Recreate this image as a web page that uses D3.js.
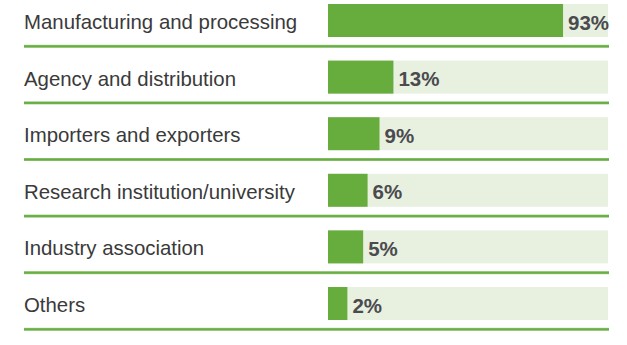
<!DOCTYPE html>
<html>
<head>
<meta charset="utf-8">
<script src="https://cdn.jsdelivr.net/npm/d3@7"></script>
<style>
  html, body { margin: 0; padding: 0; background: #ffffff; }
  svg { display: block; }
</style>
</head>
<body>
<svg id="chart" width="627" height="345"></svg>
<script>
const categories = [
  "Manufacturing and processing",
  "Agency and distribution",
  "Importers and exporters",
  "Research institution/university",
  "Industry association",
  "Others"
];
const values = [93, 13, 9, 6, 5, 2];
const valueLabels = ["93%", "13%", "9%", "6%", "5%", "2%"];

const svg = d3.select("#chart");
const barX0 = 328, trackW = 280, barH = 33;
const rowStep = 56.6;

const y = d3.scaleBand()
  .domain(categories)
  .range([4, 4 + rowStep * categories.length])
  .paddingInner(0).paddingOuter(0);

const x = d3.scalePow().exponent(0.65)
  .domain([0, 100])
  .range([0, 246.4]);

const rows = svg.selectAll("g.row")
  .data(categories.map((c, i) => ({ c, v: values[i], lab: valueLabels[i] })))
  .enter().append("g").attr("class", "row")
  .attr("transform", d => `translate(0,${y(d.c)})`);

// track
rows.append("rect")
  .attr("x", barX0).attr("y", 0)
  .attr("width", trackW).attr("height", barH)
  .attr("fill", "#e8f0e0");

// bar
rows.append("rect")
  .attr("x", barX0).attr("y", 0)
  .attr("width", d => x(d.v)).attr("height", barH)
  .attr("fill", "#66ad3e");

// separator line
rows.append("rect")
  .attr("x", 24).attr("y", 40.8)
  .attr("width", 585).attr("height", 3)
  .attr("fill", "#9ccb83");
rows.append("rect")
  .attr("x", 24).attr("y", 41.3)
  .attr("width", 585).attr("height", 2)
  .attr("fill", "#68ae42");

// category label
rows.append("text")
  .attr("x", 24).attr("y", 25)
  .attr("font-family", "Liberation Sans, Arial, sans-serif")
  .attr("font-size", "20.4px")
  .attr("fill", "#3a3a3a")
  .text(d => d.c);

// value label
rows.append("text")
  .attr("x", d => barX0 + x(d.v) + 5)
  .attr("y", 25.5)
  .attr("font-family", "Liberation Sans, Arial, sans-serif")
  .attr("font-size", "20.5px")
  .attr("font-weight", "bold")
  .attr("fill", "#4a4a4f")
  .text(d => d.lab);
</script>
</body>
</html>
